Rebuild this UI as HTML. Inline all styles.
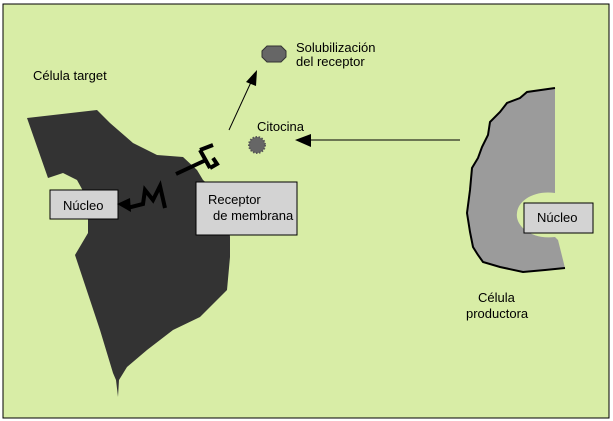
<!DOCTYPE html>
<html><head><meta charset="utf-8"><style>
html,body{margin:0;padding:0;background:#fff;}
svg{display:block;}
text{font-family:"Liberation Sans",Arial,sans-serif;font-size:13px;fill:#000;}
</style></head><body>
<svg width="613" height="421" viewBox="0 0 613 421">
<rect x="3" y="4" width="606" height="414" fill="#d8eda6" stroke="#000" stroke-width="1"/>
<!-- target cell -->
<path d="M27,118 L97,110 L110,123 L133,143 L157,155 L183,157 L197,170 L203,180 L215,190 L228,215 L230,237 L230,257 L227,290 L200,317 L173,330 L147,350 L127,367 L119,380 L118,397 L116,380 L113,373 L100,330 L75,255 L88,233 L88,200 L77,180 L63,173 L48,178 Z" fill="#333"/>
<!-- producer cell -->
<path d="M555,88 L527,92 L520,98 L507,103 L500,112 L490,122 L488,135 L482,147 L478,158 L472,168 L470,190 L467,213 L470,232 L473,247 L478,255 L483,262 L500,267 L523,272 L545,270 L565,268 L558,240 L555,237 C530,240 515,225 517,213 C518,200 535,190 555,193 Z" fill="#9b9b9b"/>
<path d="M555,88 L527,92 L520,98 L507,103 L500,112 L490,122 L488,135 L482,147 L478,158 L472,168 L470,190 L467,213 L470,232 L473,247 L478,255 L483,262 L500,267 L523,272 L545,270 L565,268" stroke="#000" stroke-width="2" fill="none"/>
<!-- boxes -->
<rect x="50" y="190" width="68" height="29" fill="#d3d3d3" stroke="#000"/>
<text x="63" y="210">Núcleo</text>
<rect x="196" y="182" width="101" height="53" fill="#d3d3d3" stroke="#000"/>
<text x="208" y="204">Receptor</text>
<text x="213" y="220">de membrana</text>
<rect x="524" y="203" width="69" height="30" fill="#d3d3d3" stroke="#000"/>
<text x="537" y="222">Núcleo</text>
<!-- arrows -->
<line x1="460" y1="140" x2="305" y2="140" stroke="#000" stroke-width="1"/>
<polygon points="295,140 311,134 311,147" fill="#000"/>
<line x1="229" y1="130" x2="252" y2="80" stroke="#000" stroke-width="1"/>
<polygon points="257,70 246,82 256,86" fill="#000"/>
<!-- receptor T -->
<path d="M176,174 L206,160 M200,150 L210,168 M200,150 L213,145 M210,168 L217,164 L213,158" stroke="#000" stroke-width="4" fill="none"/>
<!-- zigzag -->
<path d="M127,208 L143,204 L145,190 L153,200 L160,186 L165,208" stroke="#000" stroke-width="4" fill="none"/>
<polygon points="117,204 130,198 131,212" fill="#000"/>
<!-- octagon -->
<polygon points="267,46 281,46 286,51 286,57 281,62 267,62 262,57 262,51" fill="#666" stroke="#333"/>
<!-- cytokine -->
<circle cx="257" cy="145" r="8" fill="#666" stroke="#555" stroke-width="2" stroke-dasharray="1.5 1.5"/>
<text x="296" y="52">Solubilización</text>
<text x="296" y="66">del receptor</text>
<text x="257" y="131">Citocina</text>
<text x="33" y="80">Célula target</text>
<text x="478" y="302">Célula</text>
<text x="466" y="318">productora</text>
</svg>
</body></html>
